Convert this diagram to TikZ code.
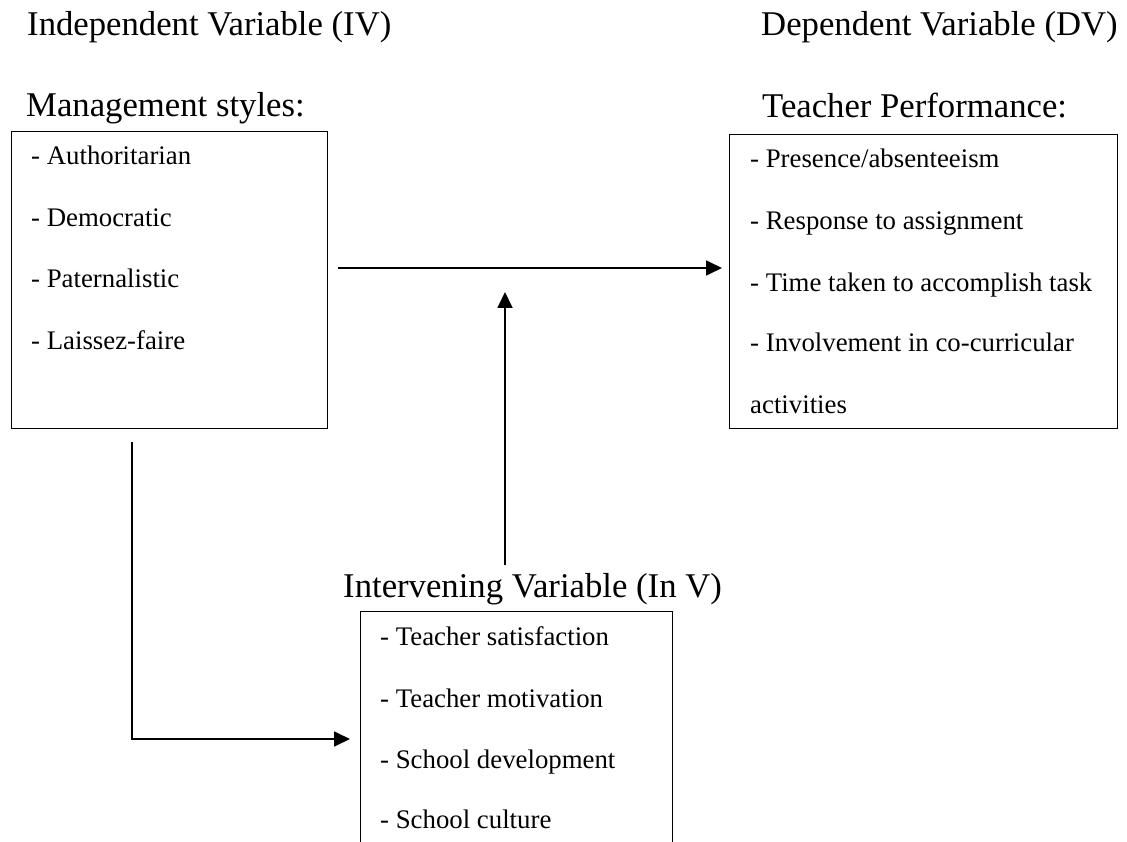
\documentclass[tikz,border=0pt]{standalone}
\usepackage{fontspec}
\setmainfont{Liberation Serif}
\usetikzlibrary{arrows.meta,calc}
\tikzset{
  box/.style={draw, line width=1.4pt, inner sep=0pt, anchor=north west},
  head/.style={anchor=base west, inner sep=0pt, font=\fontsize{34.7}{40}\selectfont},
  item/.style={anchor=base west, inner sep=0pt, font=\fontsize{26.8}{30}\selectfont},
  arr/.style={line width=1.8pt, -{Triangle[length=16pt,width=15pt]}},
}
\begin{document}
\begin{tikzpicture}[x=1pt,y=-1pt]
\useasboundingbox (0,0) rectangle (1127,842);
\clip (0,0) rectangle (1127,842);
% headings
\node[head] (ivh) at (27,36) {Independent Variable (IV)};
\node[head] (msh) at (26,117) {Management styles:};
\node[head] (dvh) at (761,36) {Dependent Variable (DV)};
\node[head] (tph) at (762,118) {Teacher Performance:};
\node[head] (inh) at (343,597) {Intervening Variable (In V)};
% boxes
\node[box, minimum width=316pt, minimum height=297pt] (lbox) at (11,131) {};
\node[box, minimum width=388pt, minimum height=294pt] (rbox) at (729,134) {};
\node[box, minimum width=312pt, minimum height=280pt] (ibox) at (360,611) {};
% left items
\node[item] (l1) at (31,165) {- Authoritarian};
\node[item] (l2) at (31,227) {- Democratic};
\node[item] (l3) at (31,288) {- Paternalistic};
\node[item] (l4) at (31,349) {- Laissez-faire};
% right items
\node[item] (r1) at (750,168) {- Presence/absenteeism};
\node[item] (r2) at (750,230) {- Response to assignment};
\node[item] (r3) at (750,292) {- Time taken to accomplish task};
\node[item] (r4) at (750,352) {- Involvement in co-curricular};
\node[item] (r5) at (750,413) {activities};
% intervening items
\node[item] (i1) at (380,645) {- Teacher satisfaction};
\node[item] (i2) at (380,707) {- Teacher motivation};
\node[item] (i3) at (380,768) {- School development};
\node[item] (i4) at (380,828) {- School culture};
% connectors
\coordinate (hs) at ([xshift=10pt]lbox.east |- 0,268);
\coordinate (he) at ([xshift=-7pt]rbox.west |- 0,268);
\draw[arr] (hs) -- (he);
\coordinate (vs) at (505,565);
\coordinate (ve) at (505,292);
\draw[arr] (vs) -- (ve);
\coordinate (ls) at (132,442);
\coordinate (lc) at (132,739);
\coordinate (le) at ([xshift=-10pt]ibox.west |- lc);
\draw[arr] (ls) -- (lc) -- (le);
\end{tikzpicture}
\end{document}
